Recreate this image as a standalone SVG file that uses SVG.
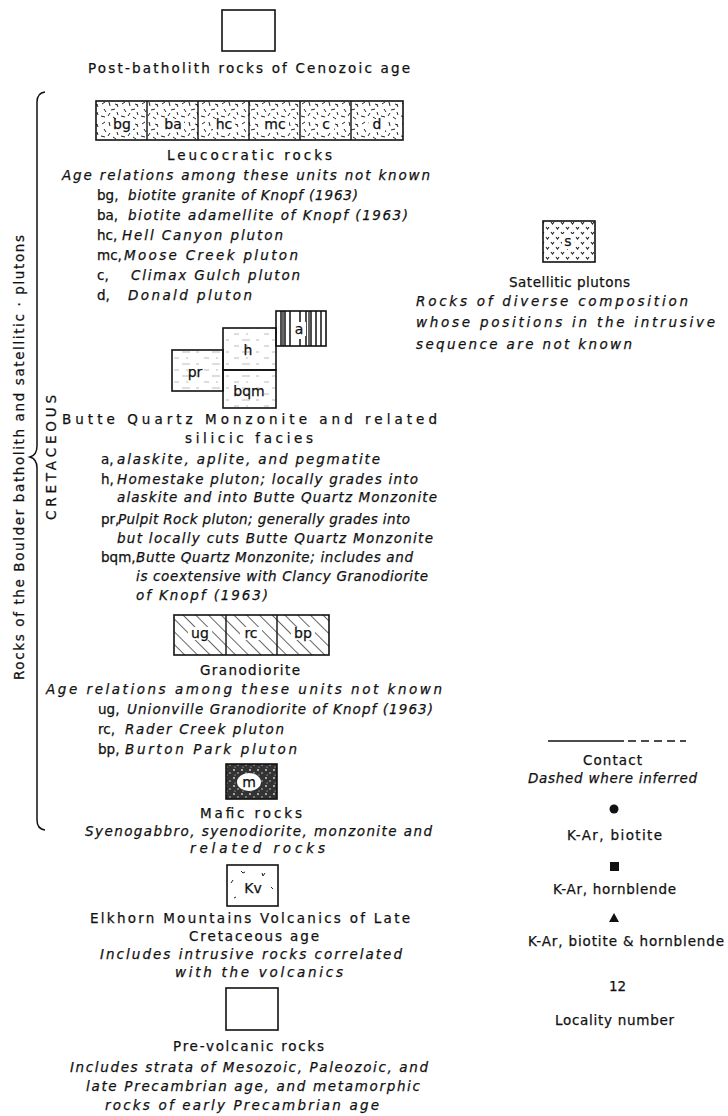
<svg xmlns="http://www.w3.org/2000/svg" width="728" height="1116" viewBox="0 0 728 1116">
<style>
text{font-family:"DejaVu Sans","Liberation Sans",sans-serif;font-size:13.5px;fill:#111;stroke:#111;stroke-width:0.25}
.i{font-style:italic}
.box{fill:none;stroke:#111;stroke-width:1.6}
.lb{font-size:14px;text-anchor:middle}
</style>
<defs>
<pattern id="leuco" width="20" height="20" patternUnits="userSpaceOnUse">
<path d="M2 4l3-2M9 2l1 4M15 4l3 1M4 9l2 3M11 10l4-1M17 12l1 3M1 16l4 1M8 16l2-3M13 17l3 2M18 7l-1-2" stroke="#222" stroke-width="1"/>
</pattern>
<pattern id="hatch" width="9" height="9" patternUnits="userSpaceOnUse" patternTransform="rotate(-45)">
<line x1="0" y1="0" x2="0" y2="9" stroke="#111" stroke-width="1.3"/>
</pattern>
<pattern id="faint" width="30" height="12" patternUnits="userSpaceOnUse">
<path d="M2 4h8M16 4h3M24 10h5M6 10h2" stroke="#bbb" stroke-width="1"/>
</pattern>
<pattern id="sat" width="10" height="10" patternUnits="userSpaceOnUse">
<path d="M1 2l1.5 2l1.5-2M6 7l1.5 2l1.5-2" stroke="#222" stroke-width="1.1" fill="none"/>
</pattern>
<pattern id="maf" width="8" height="8" patternUnits="userSpaceOnUse">
<rect width="8" height="8" fill="#333"/>
<circle cx="2" cy="2" r="0.9" fill="#ddd"/><circle cx="6" cy="5" r="0.7" fill="#eee"/><circle cx="3" cy="7" r="0.6" fill="#ccc"/>
</pattern>
</defs>

<g id="left-labels">
<path d="M45 92 Q37 93 37 102 L37 446 Q37 455 30 457 Q37 459 37 468 L37 820 Q37 829 45 830" fill="none" stroke="#111" stroke-width="1.5"/>
<text transform="translate(24,680) rotate(-90)" textLength="445" lengthAdjust="spacing">Rocks of the Boulder batholith and satellitic · plutons</text>
<text transform="translate(56,520) rotate(-90)" textLength="125" lengthAdjust="spacing">CRETACEOUS</text>
</g>

<g id="post-batholith">
<rect class="box" x="222" y="10" width="53" height="41"/>
<text x="88" y="73" textLength="322" lengthAdjust="spacing">Post-batholith rocks of Cenozoic age</text>
</g>

<g id="leucocratic">
<rect x="96" y="101" width="307" height="39" fill="url(#leuco)"/>
<g fill="#fff">
<rect x="111" y="119" width="22" height="13"/><rect x="162" y="119" width="22" height="13"/><rect x="213" y="119" width="22" height="13"/><rect x="261" y="119" width="28" height="13"/><rect x="318" y="119" width="16" height="13"/><rect x="369" y="119" width="16" height="13"/>
</g>
<rect class="box" x="96" y="101" width="307" height="39"/>
<path d="M147 101v39M198 101v39M249 101v39M300 101v39M351 101v39" stroke="#111" stroke-width="1.4"/>
<text class="lb" x="122" y="129">bg</text><text class="lb" x="173" y="129">ba</text><text class="lb" x="224" y="129">hc</text><text class="lb" x="275" y="129">mc</text><text class="lb" x="326" y="129">c</text><text class="lb" x="377" y="129">d</text>
<text x="167" y="160" textLength="165" lengthAdjust="spacing">Leucocratic rocks</text>
<text class="i" x="62" y="180" textLength="368" lengthAdjust="spacing">Age relations among these units not known</text>
<text x="97" y="200">bg,</text><text class="i" x="128" y="200" textLength="230" lengthAdjust="spacing">biotite granite of Knopf (1963)</text>
<text x="97" y="220">ba,</text><text class="i" x="128" y="220" textLength="280" lengthAdjust="spacing">biotite adamellite of Knopf (1963)</text>
<text x="97" y="240">hc,</text><text class="i" x="122" y="240" textLength="161" lengthAdjust="spacing">Hell Canyon pluton</text>
<text x="97" y="260">mc,</text><text class="i" x="124" y="260" textLength="174" lengthAdjust="spacing">Moose Creek pluton</text>
<text x="97" y="280">c,</text><text class="i" x="131" y="280" textLength="169" lengthAdjust="spacing">Climax Gulch pluton</text>
<text x="97" y="300">d,</text><text class="i" x="128" y="300" textLength="124" lengthAdjust="spacing">Donald pluton</text>
</g>

<g id="satellitic">
<rect x="543" y="221" width="52" height="41" fill="url(#sat)"/>
<rect x="562" y="234" width="12" height="15" fill="#fff"/>
<rect class="box" x="543" y="221" width="52" height="41"/>
<text class="lb" x="568" y="246">s</text>
<text x="509" y="287" textLength="121" lengthAdjust="spacing">Satellitic plutons</text>
<text class="i" x="416" y="306" textLength="272" lengthAdjust="spacing">Rocks of diverse composition</text>
<text class="i" x="416" y="327" textLength="299" lengthAdjust="spacing">whose positions in the intrusive</text>
<text class="i" x="416" y="349" textLength="216" lengthAdjust="spacing">sequence are not known</text>
</g>

<g id="butte-quartz-monzonite">
<rect x="276" y="311" width="50" height="35" fill="#fff"/>
<path d="M281 311v35M285 311v35M290 311v35M300 311v12M300 339v7M306 311v35M311 311v35M316 311v35M321 311v35" stroke="#222" stroke-width="1.6"/>
<path d="M283 311v35M309 311v35" stroke="#666" stroke-width="2"/>
<rect x="293" y="322" width="13" height="14" fill="#fff"/>
<rect class="box" x="276" y="311" width="50" height="35"/>
<text class="lb" x="299" y="334">a</text>
<rect x="223" y="328" width="53" height="80" fill="url(#faint)"/>
<rect x="172" y="350" width="51" height="41" fill="url(#faint)"/>
<rect class="box" x="223" y="328" width="53" height="42"/>
<rect class="box" x="223" y="370" width="53" height="38"/>
<rect class="box" x="172" y="350" width="51" height="41"/>
<text class="lb" x="248" y="355">h</text>
<text class="lb" x="195" y="377">pr</text>
<text class="lb" x="249" y="396">bqm</text>
<text x="62" y="424" textLength="375" lengthAdjust="spacing">Butte Quartz Monzonite and related</text>
<text x="185" y="443" textLength="128" lengthAdjust="spacing">silicic facies</text>
<text x="101" y="464">a,</text><text class="i" x="117" y="464" textLength="263" lengthAdjust="spacing">alaskite, aplite, and pegmatite</text>
<text x="101" y="484">h,</text><text class="i" x="117" y="484" textLength="301" lengthAdjust="spacing">Homestake pluton; locally grades into</text>
<text class="i" x="117" y="502" textLength="320" lengthAdjust="spacing">alaskite and into Butte Quartz Monzonite</text>
<text x="101" y="524">pr,</text><text class="i" x="118" y="524" textLength="292" lengthAdjust="spacing">Pulpit Rock pluton; generally grades into</text>
<text class="i" x="117" y="543" textLength="316" lengthAdjust="spacing">but locally cuts Butte Quartz Monzonite</text>
<text x="101" y="562">bqm,</text><text class="i" x="136" y="562" textLength="277" lengthAdjust="spacing">Butte Quartz Monzonite; includes and</text>
<text class="i" x="136" y="581" textLength="292" lengthAdjust="spacing">is coextensive with Clancy Granodiorite</text>
<text class="i" x="136" y="600" textLength="132" lengthAdjust="spacing">of Knopf (1963)</text>
</g>

<g id="granodiorite">
<rect x="174" y="615" width="155" height="40" fill="url(#hatch)"/>
<g fill="#fff"><rect x="188" y="627" width="24" height="13"/><rect x="240" y="627" width="22" height="13"/><rect x="291" y="627" width="24" height="13"/></g>
<rect class="box" x="174" y="615" width="155" height="40"/>
<path d="M226 615v40M277 615v40" stroke="#111" stroke-width="1.4"/>
<text class="lb" x="200" y="638">ug</text><text class="lb" x="251" y="638">rc</text><text class="lb" x="303" y="638">bp</text>
<text x="200" y="675" textLength="100" lengthAdjust="spacing">Granodiorite</text>
<text class="i" x="46" y="694" textLength="396" lengthAdjust="spacing">Age relations among these units not known</text>
<text x="98" y="714">ug,</text><text class="i" x="127" y="714" textLength="306" lengthAdjust="spacing">Unionville Granodiorite of Knopf (1963)</text>
<text x="98" y="734">rc,</text><text class="i" x="125" y="734" textLength="159" lengthAdjust="spacing">Rader Creek pluton</text>
<text x="98" y="754">bp,</text><text class="i" x="125" y="754" textLength="172" lengthAdjust="spacing">Burton Park pluton</text>
</g>

<g id="mafic">
<rect x="226" y="764" width="51" height="35" fill="url(#maf)"/>
<ellipse cx="249" cy="782" rx="12" ry="9" fill="#fff"/>
<rect class="box" x="226" y="764" width="51" height="35"/>
<text class="lb" x="249" y="787">m</text>
<text x="200" y="818" textLength="102" lengthAdjust="spacing">Mafic rocks</text>
<text class="i" x="85" y="836" textLength="347" lengthAdjust="spacing">Syenogabbro, syenodiorite, monzonite and</text>
<text class="i" x="190" y="853" textLength="135" lengthAdjust="spacing">related rocks</text>
</g>

<g id="elkhorn-volcanics">
<rect class="box" x="227" y="865" width="51" height="41"/>
<path d="M241 871l2 2l2-1M262 873l1 3l2-3M233 880l-2 3M271 887l2 2M236 897l-2 1" stroke="#222" stroke-width="1" fill="none"/>
<text class="lb" x="253" y="893">Kv</text>
<text x="90" y="923" textLength="320" lengthAdjust="spacing">Elkhorn Mountains Volcanics of Late</text>
<text x="189" y="941" textLength="130" lengthAdjust="spacing">Cretaceous age</text>
<text class="i" x="100" y="959" textLength="302" lengthAdjust="spacing">Includes intrusive rocks correlated</text>
<text class="i" x="175" y="977" textLength="168" lengthAdjust="spacing">with the volcanics</text>
</g>

<g id="pre-volcanic">
<rect class="box" x="226" y="988" width="52" height="42"/>
<text x="173" y="1051" textLength="151" lengthAdjust="spacing">Pre-volcanic rocks</text>
<text class="i" x="70" y="1072" textLength="358" lengthAdjust="spacing">Includes strata of Mesozoic, Paleozoic, and</text>
<text class="i" x="86" y="1091" textLength="334" lengthAdjust="spacing">late Precambrian age, and metamorphic</text>
<text class="i" x="105" y="1110" textLength="274" lengthAdjust="spacing">rocks of early Precambrian age</text>
</g>

<g id="symbols">
<line x1="548" y1="741" x2="624" y2="741" stroke="#111" stroke-width="1.5"/>
<line x1="628" y1="741" x2="686" y2="741" stroke="#111" stroke-width="1.5" stroke-dasharray="8,5"/>
<text x="583" y="765" textLength="59" lengthAdjust="spacing">Contact</text>
<text class="i" x="528" y="783" textLength="169" lengthAdjust="spacing">Dashed where inferred</text>
<circle cx="614" cy="809" r="4.5" fill="#111"/>
<text x="567" y="840" textLength="95" lengthAdjust="spacing">K-Ar, biotite</text>
<rect x="610" y="862" width="9" height="9" fill="#111"/>
<text x="553" y="894" textLength="123" lengthAdjust="spacing">K-Ar, hornblende</text>
<path d="M609 922h10l-5-9z" fill="#111"/>
<text x="528" y="946" textLength="196" lengthAdjust="spacing">K-Ar, biotite &amp; hornblende</text>
<text x="609" y="991" font-size="12">12</text>
<text x="555" y="1025" textLength="119" lengthAdjust="spacing">Locality number</text>
</g>
</svg>
